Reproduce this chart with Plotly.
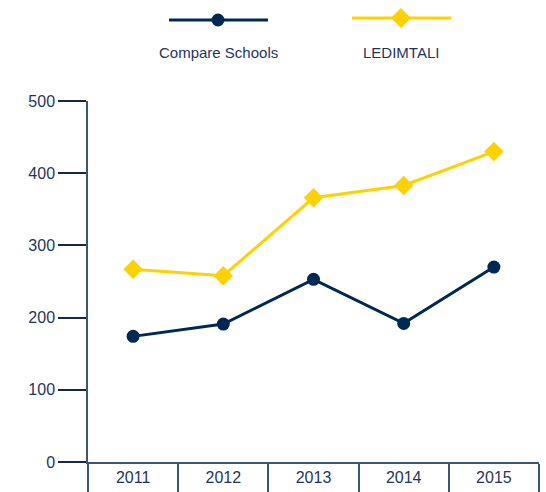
import plotly.graph_objects as go

years = ["2011", "2012", "2013", "2014", "2015"]
compare_schools = [174, 191, 253, 192, 270]
ledimtali = [267, 258, 366, 383, 430]
y_ticks = [0, 100, 200, 300, 400, 500]

NAVY = "#002855"
YELLOW = "#FFD100"
AXIS = "#3b5479"
TEXT = "#1f3560"
FONT = "Liberation Sans, Arial, sans-serif"

W, H = 546, 492
ML, MR, MT, MB = 88, 7, 101, 30
PW, PH = W - ML - MR, H - MT - MB


def px(x):
    return (x - ML) / PW


def py(y):
    return (H - MB - y) / PH


fig = go.Figure()
fig.add_trace(go.Scatter(
    x=years, y=compare_schools, name="Compare Schools", mode="lines+markers",
    line=dict(color=NAVY, width=3), marker=dict(symbol="circle", size=13, color=NAVY),
    showlegend=False,
))
fig.add_trace(go.Scatter(
    x=years, y=ledimtali, name="LEDIMTALI", mode="lines+markers",
    line=dict(color=YELLOW, width=3), marker=dict(symbol="diamond", size=15, color=YELLOW),
    showlegend=False,
))

shapes = []
annotations = []
legend_items = [
    ("Compare Schools", NAVY, "circle", 169, 268, 20, 218),
    ("LEDIMTALI", YELLOW, "diamond", 352, 451, 18, 401),
]
for name, color, sym, x0, x1, ly, cx in legend_items:
    shapes.append(dict(type="line", xref="paper", yref="paper",
                       x0=px(x0), x1=px(x1), y0=py(ly), y1=py(ly),
                       line=dict(color=color, width=3)))
    if sym == "circle":
        shapes.append(dict(type="circle", xref="paper", yref="paper",
                           xsizemode="pixel", ysizemode="pixel",
                           xanchor=px(cx), yanchor=py(ly),
                           x0=-6.5, x1=6.5, y0=-6.5, y1=6.5,
                           fillcolor=color, line=dict(width=0)))
    else:
        shapes.append(dict(type="path", xref="paper", yref="paper",
                           xsizemode="pixel", ysizemode="pixel",
                           xanchor=px(cx), yanchor=py(ly),
                           path="M -10 0 L 0 10 L 10 0 L 0 -10 Z",
                           fillcolor=color, line=dict(width=0)))
    annotations.append(dict(text=name, xref="paper", yref="paper",
                            x=px(cx), y=py(53), xanchor="center", yanchor="middle",
                            showarrow=False, font=dict(family=FONT, size=15, color=TEXT)))

fig.update_layout(
    width=W, height=H,
    margin=dict(l=ML, r=MR, t=MT, b=MB, autoexpand=False),
    plot_bgcolor="white", paper_bgcolor="white",
    font=dict(family=FONT, size=16, color=TEXT),
    shapes=shapes, annotations=annotations,
    xaxis=dict(
        type="category", range=[-0.5, 4.5], showgrid=False, zeroline=False,
        automargin=False,
        showline=True, linecolor=AXIS, linewidth=1.5,
        ticks="outside", tickson="boundaries", ticklen=30, tickwidth=1.5, tickcolor=AXIS,
        ticklabelstandoff=0,
        tickfont=dict(family=FONT, size=16, color=TEXT),
    ),
    yaxis=dict(
        range=[0, 500], tickvals=y_ticks, showgrid=False, zeroline=False,
        automargin=False,
        showline=True, linecolor=AXIS, linewidth=1.5,
        ticks="outside", ticklen=28, tickwidth=1.5, tickcolor="#13294b",
        tickfont=dict(family=FONT, size=16, color=TEXT),
    ),
)

fig.write_html(
    "out.html",
    config={"displayModeBar": False},
    post_script="document.body.style.margin='0';document.body.style.overflow='hidden';",
)
